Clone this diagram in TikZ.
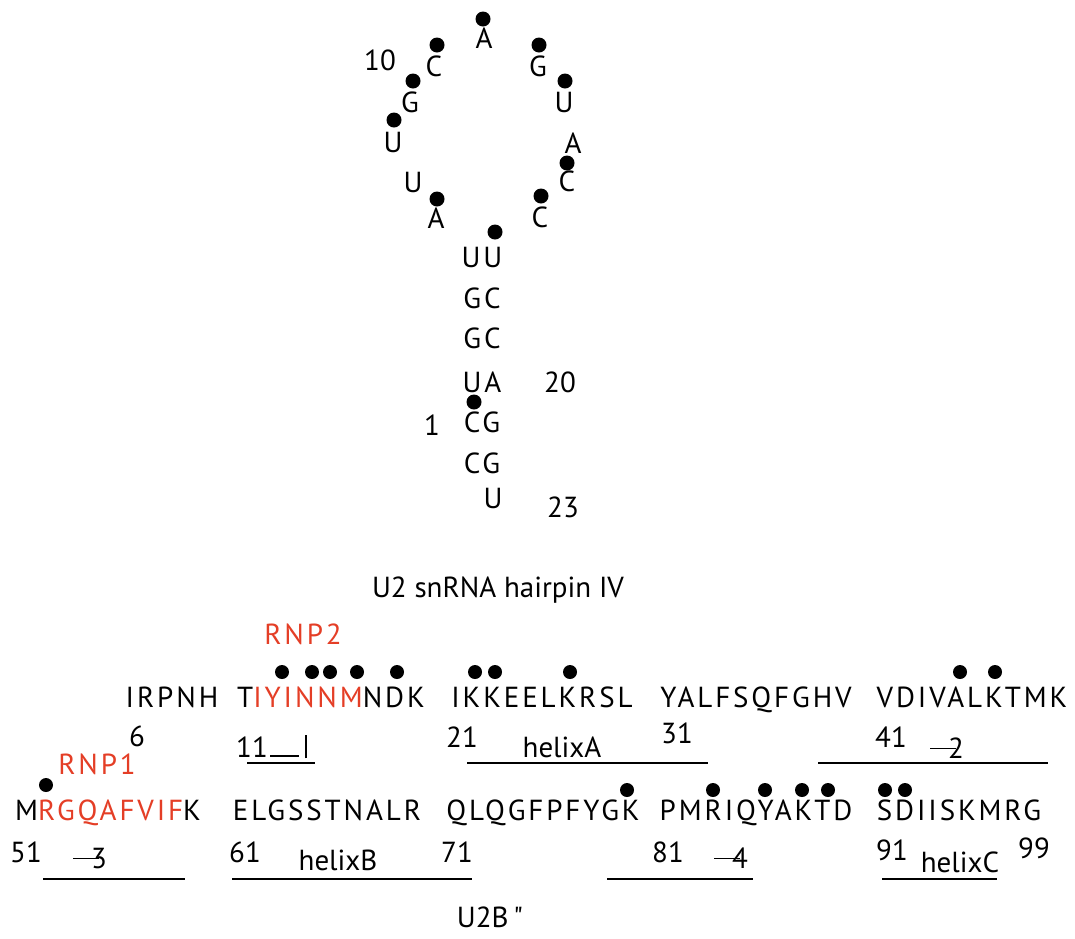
\documentclass[tikz,border=0pt]{standalone}
\usepackage{fontspec}
\setmainfont{PT Sans}
\newfontfamily\seqfont{PT Sans}[LetterSpace=10]
\definecolor{rnpred}{RGB}{228,62,38}
\tikzset{
  lbl/.style={inner sep=0pt,font=\fontsize{29}{32}\selectfont},
  res/.style={lbl,anchor=base},
  seq/.style={res,font=\fontsize{29}{32}\seqfont},
  nt/.style={lbl,anchor=center},
  pair/.style={nt,font=\fontsize{29}{32}\seqfont},
  contact/.style={fill=black},
  strandline/.style={line width=2.3pt},
}
% beta strand marks, as printed
\newcommand{\bstrand}[1]{\makebox[0pt][l]{\rule[0.3em]{0.9em}{1.7pt}}\hspace{0.62em}#1}
\newcommand{\bfirst}{\rule{1.0em}{1.9pt}\hspace{0.2em}\rule[-0.05em]{2.2pt}{0.8em}}
\newcommand{\rnp}[1]{\textcolor{rnpred}{#1}}
\begin{document}
\begin{tikzpicture}[x=1pt,y=-1pt]
\useasboundingbox (0,0) rectangle (1075,938);
% hairpin loop
\node[nt] (a8) at (484,38) {A};
\node[nt] (c9) at (434,66) {C};
\node[nt] (n10) at (380,60) {10};
\node[nt] (g10) at (410,102) {G};
\node[nt] (u11) at (393,142) {U};
\node[nt] (u12) at (413,182) {U};
\node[nt] (a13) at (436,218) {A};
\node[nt] (g14) at (538,66) {G};
\node[nt] (u15) at (564,102) {U};
\node[nt] (a16) at (573,143) {A};
\node[nt] (c17) at (567,181) {C};
\node[nt] (c18) at (540,217) {C};
% stem
\node[pair] (s1) at (482,257) {UU};
\node[pair] (s2) at (482,298) {GC};
\node[pair] (s3) at (482,338) {GC};
\node[pair] (s4) at (482,382) {UA};
\node[nt] (n20) at (560,382) {20};
\node[pair] (s5) at (482,422) {CG};
\node[nt] (n1) at (432,425) {1};
\node[pair] (s6) at (482,463) {CG};
\node[nt] (s7) at (493,498) {U};
\node[nt] (n23) at (563,507) {23};
\node[nt] (rna) at (498,590) {U2 snRNA hairpin IV};
\foreach \p in {(483,19),(437,45),(539,45),(413,81),(565,81),(394,120),
  (567,163),(437,199),(541,196),(495,232),(474,402)}
  \fill[contact] \p circle (7.5pt);
% protein, first row
\node[seq] (rnp2) at (303,644) {\rnp{RNP2}};
\node[seq] (r1a) at (172,707) {IRPNH};
\node[seq] (r1b) at (331,707) {T\rnp{IYINNM}NDK};
\node[seq] (r1c) at (542,707) {IKKEELKRSL};
\node[seq] (r1d) at (756,707) {YALFSQFGHV};
\node[seq] (r1e) at (972,707) {VDIVALKTMK};
\node[res] (n6) at (137,746) {6};
\node[res] (n11) at (252,757) {11};
\node[res,anchor=base west] (b1) at (270,757) {\bfirst};
\node[res] (n21) at (462,747) {21};
\node[res] (hA) at (562,757) {helixA};
\node[res] (n31) at (677,743) {31};
\node[res] (n41) at (891,747) {41};
\node[res] (b2) at (947,758) {\bstrand{2}};
\foreach \x in {282,312,330,357,397,475,495,570,960,995}
  \fill[contact] (\x,672) circle (7pt);
\draw[strandline] (247,763) -- (315,763);
\draw[strandline] (467,763) -- (708,763);
\draw[strandline] (818,763) -- (1048,763);
% protein, second row
\node[seq] (rnp1) at (97,774) {\rnp{RNP1}};
\node[seq] (r2a) at (108,820) {M\rnp{RGQAFVIF}K};
\node[seq] (r2b) at (327,820) {ELGSSTNALR};
\node[seq] (r2c) at (543,820) {QLQGFPFYGK};
\node[seq] (r2d) at (756,820) {PMRIQYAKTD};
\node[seq] (r2e) at (959,820) {SDIISKMRG};
\node[res] (n51) at (26,862) {51};
\node[res] (b3) at (90,868) {\bstrand{3}};
\node[res] (n61) at (245,862) {61};
\node[res] (hB) at (338,870) {helixB};
\node[res] (n71) at (457,862) {71};
\node[res] (n81) at (668,862) {81};
\node[res] (b4) at (731,868) {\bstrand{4}};
\node[res] (n91) at (892,860) {91};
\node[res] (hC) at (960,872) {helixC};
\node[res] (n99) at (1034,858) {99};
\fill[contact] (46,785) circle (7pt);
\foreach \x in {627,713,765,802,828,885,905}
  \fill[contact] (\x,790) circle (7pt);
\draw[strandline] (43,879) -- (185,879);
\draw[strandline] (232,879) -- (472,879);
\draw[strandline] (607,879) -- (753,879);
\draw[strandline] (882,879) -- (997,879);
\node[nt] (prot) at (490,917) {U2B\,\textquotedbl};
\end{tikzpicture}
\end{document}
